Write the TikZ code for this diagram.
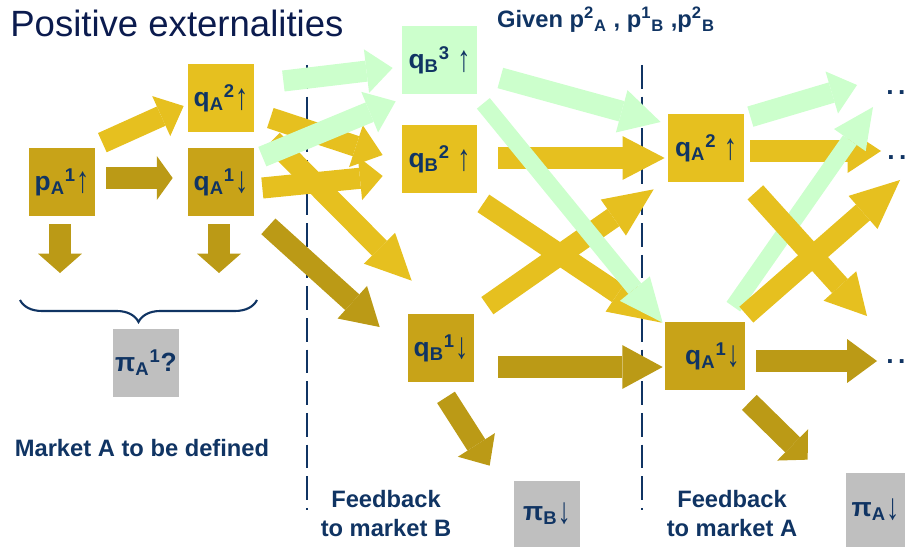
\documentclass[tikz,border=0pt]{standalone}
\usepackage{fontspec}
\usepackage{graphicx}
\setmainfont{Liberation Sans}
\usetikzlibrary{arrows.meta,decorations.pathreplacing}
\definecolor{mkgold}{HTML}{E6C01F}
\definecolor{mkdark}{HTML}{C8A318}
\definecolor{mkdarkarrow}{HTML}{BB9A16}
\definecolor{mkgreen}{HTML}{CCFFCC}
\definecolor{mkgray}{HTML}{BFBFBF}
\definecolor{mknavy}{HTML}{103463}
\definecolor{mktitle}{HTML}{0B1B4E}
\tikzset{
  mkbox/.style={rectangle, minimum width=1.32cm, minimum height=1.36cm,
                inner sep=0pt, text=mknavy,
                font=\fontsize{15}{18}\selectfont\bfseries},
  mkarrow/.style={line width=12pt,
                  -{Triangle[length=#1 0 0, width=25pt 0 0, line width=0pt 0 0]}},
  mkarrow/.default=14pt,
  mkthin/.style={line width=9.5pt,
                 -{Triangle[length=#1 0 0, width=22pt 0 0, line width=0pt 0 0]}},
  mkthin/.default=22pt,
  mklabel/.style={text=mknavy, align=center, inner sep=0pt,
                  font=\fontsize{13.5}{16.5}\selectfont\bfseries},
  mkdots/.style={text=mknavy, anchor=west, inner sep=0pt,
                 font=\fontsize{15}{18}\selectfont\bfseries},
  mkdash/.style={mknavy, line width=1.4pt, dash pattern=on 13.5pt off 4.5pt}
}
\newcommand{\mksub}[1]{\textsubscript{#1}}
\newcommand{\mksup}[1]{\textsuperscript{#1}}
\newcommand{\mkup}{\raisebox{-0.2ex}{\scalebox{1}[1.4]{\mdseries ↑}}}
\newcommand{\mkdown}{\raisebox{-0.2ex}{\scalebox{1}[1.4]{\mdseries ↓}}}
\begin{document}
\begin{tikzpicture}[x=0.02cm, y=-0.02cm]
  \useasboundingbox (0,0) rectangle (905,547);
  \node[anchor=base west, inner sep=0pt, text=mktitle,
        font=\fontsize{20.8}{24}\selectfont] (title) at (10,37) {Positive externalities};
  % market A, first round
  \node[mkbox, fill=mkdark] (pA1) at (62,182) {p\mksub{A}\mksup{1}\mkup};
  \node[mkbox, fill=mkgold] (qA2) at (221,98) {q\mksub{A}\mksup{2}\mkup};
  \node[mkbox, fill=mkdark] (qA1) at (221,182) {q\mksub{A}\mksup{1}\mkdown};
  \node[mkbox, fill=mkgray] (piA1) at (146,363) {π\mksub{A}\mksup{1}?};
  % market B
  \node[mkbox, fill=mkgreen, minimum width=1.5cm] (qB3) at (439.5,60) {q\mksub{B}\mksup{3} \mkup};
  \node[mkbox, fill=mkgold, minimum width=1.5cm] (qB2) at (439.5,159) {q\mksub{B}\mksup{2} \mkup};
  \node[mkbox, fill=mkdark] (qB1) at (441,348) {q\mksub{B}\mksup{1}\mkdown};
  \node[mkbox, fill=mkgray, minimum height=1.32cm] (piB) at (547,514) {π\mksub{B}\mkdown};
  % market A, second round
  \node[mkbox, fill=mkgold, minimum width=1.52cm] (qA2r) at (706,148) {q\mksub{A}\mksup{2} \mkup};
  \node[mkbox, fill=mkdark, minimum width=1.6cm] (qA1r) at (705,356) {\hspace{0.3cm}q\mksub{A}\mksup{1}\mkdown};
  \node[mkbox, fill=mkgray, minimum width=1.18cm, minimum height=1.48cm] (piA) at (875.5,510) {π\mksub{A}\mkdown};
  \node[mkdots] (d1) at (886,93) {.\kern2.5pt.};
  \node[mkdots] (d2) at (887,158) {.\kern2.5pt.};
  \node[mkdots] (d3) at (886,362) {.\kern2.5pt.};
  % texts
  \node[mklabel, anchor=base] (given) at (606,28)
    {Given p\mksup{2}\mksub{A} , p\mksup{1}\mksub{B} ,p\mksup{2}\mksub{B}};
  \node[mklabel, anchor=base] (mktext) at (142,456) {Market A to be defined};
  \node[mklabel] (fbB) at (386,514) {Feedback\\to market B};
  \node[mklabel] (fbA) at (732,514) {Feedback\\to market A};
  % the two cuts
  \coordinate (cutBtop) at (307,65);  \coordinate (cutBbot) at (307,510);
  \coordinate (cutAtop) at (642,65);  \coordinate (cutAbot) at (642,510);
  \draw[mkdash] (cutBtop) -- (cutBbot);
  \draw[mkdash] (cutAtop) -- (cutAbot);
  % profit of market A
  \coordinate (pA1out) at (60,273);
  \coordinate (qA1out) at (219,273);
  \draw[mkarrow=11pt, mkdarkarrow] ([shift={(-2,8)}]pA1.south) -- (pA1out);
  \draw[mkarrow=11pt, mkdarkarrow] ([shift={(-2,8)}]qA1.south) -- (qA1out);
  \coordinate (braceL) at (20,300);
  \coordinate (braceR) at (257,300);
  \draw[mknavy, line width=1.2pt, decorate,
        decoration={brace, mirror, amplitude=12.5pt}] (braceL) -- (braceR);
  % first round
  \draw[mkarrow=14pt, mkgold] ([shift={(7,-5)}]pA1.north east) -- ([shift={(-4,8)}]qA2.west);
  \draw[mkarrow=9pt, mkdarkarrow] ([shift={(11,-4)}]pA1.east) -- ([shift={(-15,-4)}]qA1.west);
  \draw[mkarrow=16pt, mkgold] ([shift={(16,20)}]qA2.east) -- ([shift={(-19,-4)}]qB2.west);
  \draw[mkarrow=13pt, mkgold] ([shift={(8,6)}]qA1.east) -- ([shift={(-19,17)}]qB2.west);
  \draw[mkarrow=26pt, mkgold] ([shift={(18,8)}]qA2.south east) -- ([shift={(4,-33)}]qB1.north west);
  \draw[mkarrow=21pt, mkdarkarrow] ([shift={(14,10)}]qA1.south east) -- ([shift={(-28,-21)}]qB1.west);
  \draw[mkarrow=16pt, mkgreen] ([shift={(8,9)}]qA1.north east) -- ([shift={(-6,7)}]qB3.south west);
  \draw[mkarrow=15pt, mkgreen] ([shift={(29,-17)}]qA2.east) -- ([shift={(-9,8)}]qB3.west);
  % feedback to market B
  \draw[mkarrow=24pt, mkgold] ([shift={(21,-1)}]qB2.east) -- ([shift={(-3,10)}]qA2r.west);
  \draw[mkarrow=28pt, mkgold] ([shift={(13,-8)}]qB1.north east) -- ([shift={(-14,7)}]qA2r.south west);
  \draw[mkarrow=30pt, mkgold] ([shift={(6,10)}]qB2.south east) -- ([shift={(-3,1)}]qA1r.north west);
  \draw[mkarrow=23pt, mkdarkarrow] ([shift={(24,19)}]qB1.east) -- ([shift={(-2,11)}]qA1r.west);
  \draw[mkarrow=14pt, mkdarkarrow] ([shift={(5,15)}]qB1.south) -- ([shift={(-24,-15)}]piB.north west);
  \draw[mkarrow=23pt, mkgreen] ([shift={(23,18)}]qB3.east) -- ([shift={(-7,-26)}]qA2r.west);
  \draw[mkthin=25pt, mkgreen] ([shift={(6,9)}]qB3.south east) -- ([shift={(-2,1)}]qA1r.north west);
  % feedback to market A
  \draw[mkarrow=19pt, mkgold] ([shift={(6,3)}]qA2r.east) -- ([shift={(-6,-7)}]d2.west);
  \draw[mkarrow=15pt, mkgreen] ([shift={(6,3)}]qA2r.north east) -- ([shift={(-29,-8)}]d1.west);
  \draw[mkthin=23pt, mkgreen] ([shift={(-12,-15)}]qA1r.north east) -- ([shift={(-13,14)}]d1.west);
  \draw[mkarrow=28pt, mkgold] ([shift={(1,-7)}]qA1r.north east) -- ([shift={(13,22)}]d2.west);
  \draw[mkarrow=23pt, mkgold] ([shift={(11,10)}]qA2r.south east) -- ([shift={(-19,-46)}]d3.west);
  \draw[mkarrow=17pt, mkdarkarrow] ([shift={(11,5)}]qA1r.east) -- ([shift={(-9,-1)}]d3.west);
  \draw[mkarrow=12pt, mkdarkarrow] ([shift={(4,12)}]qA1r.south east) -- ([shift={(-38,-13)}]piA.north west);
\end{tikzpicture}
\end{document}
